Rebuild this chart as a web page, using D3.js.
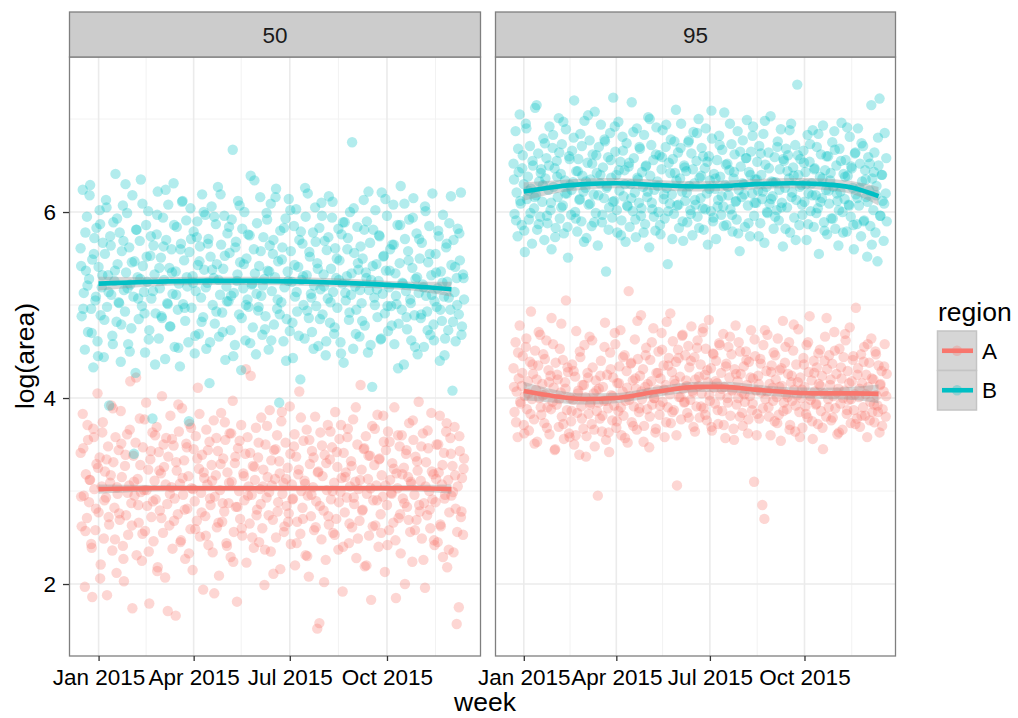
<!DOCTYPE html>
<html><head><meta charset="utf-8">
<script src="https://cdn.jsdelivr.net/npm/d3@7"></script>
<style>
body{margin:0;background:#fff;}
svg{display:block;font-family:"Liberation Sans",Arial,Helvetica,sans-serif;}
</style>
</head><body>
<svg id="chart" width="1018" height="718"></svg>
<script>
// ---------------- data ----------------
const panels = ["50", "95"];
const regions = ["A", "B"];
const regionColors = ["#F8766D", "#00BFC4"];
const xTickDates = ["2015-01-01", "2015-04-01", "2015-07-01", "2015-10-01"];
const xTickLabels = ["Jan 2015", "Apr 2015", "Jul 2015", "Oct 2015"];
const xMinorDates = ["2015-02-15", "2015-05-16", "2015-08-16", "2015-11-16"];
const yTicks = [2, 4, 6];
const yTickLabels = ["2", "4", "6"];
const yMinor = [3, 5, 7];
// first day (relative to 1 Jan 2015) of each panel's daily point series
const startDay50 = -17;
const startDay95 = -10;

// daily observations
const A50 = [
3.41,2.62,3.83,2.95,1.97,3.18,2.71,3.55,2.88,3.12,2.43,1.86,3.67,3.02,
2.58,3.29,4.05,2.77,3.36,2.21,3.05,3.74,2.49,3.21,2.93,1.88,3.48,2.64,
3.09,3.92,2.36,3.31,2.82,3.58,2.12,2.97,3.44,2.69,3.86,3.15,2.41,2.03,
3.27,2.74,3.61,2.53,3.06,4.18,2.87,1.74,3.38,2.95,3.52,2.31,3.13,2.66,
3.78,2.99,2.25,3.47,3.01,2.57,3.95,2.84,3.23,1.79,3.34,2.72,3.63,2.46,
3.11,2.91,3.69,2.18,3.42,2.79,3.19,4.02,2.55,3.26,2.07,3.57,2.86,3.37,
2.63,3.81,3.04,2.38,3.49,2.92,1.66,3.22,2.75,3.64,3.08,2.47,3.89,2.96,
3.33,2.27,3.51,2.81,3.16,3.72,2.59,3.03,2.15,3.45,2.89,3.59,2.68,4.11,
3.24,2.51,2.98,3.39,1.94,3.14,2.73,3.66,3.07,2.42,3.53,2.85,3.28,2.34,
3.76,2.94,3.17,2.61,3.43,2.09,3.01,3.84,2.67,3.35,2.78,3.55,2.44,3.2,
2.87,3.62,2.29,3.1,3.97,2.56,3.3,2.83,1.81,3.46,3.0,2.7,3.71,2.52,
3.19,2.9,3.4,2.23,3.58,3.05,2.65,4.24,2.96,3.27,2.39,3.12,3.68,2.8,
3.36,2.45,3.02,3.79,2.6,3.23,1.99,3.5,2.93,3.15,2.74,3.87,2.35,3.06,
2.69,3.44,3.13,2.5,3.6,2.88,3.32,2.16,3.75,2.97,3.09,2.62,3.52,2.84,
3.25,2.76,3.91,2.43,3.07,2.92,3.48,2.2,3.37,2.67,3.18,4.07,2.54,3.0,
2.82,3.54,3.11,2.31,3.66,2.95,2.08,3.29,2.73,3.43,3.04,2.58,3.8,2.89,
1.52,3.21,1.58,3.63,2.48,3.16,2.79,3.39,2.26,3.01,3.71,2.64,3.34,2.91,
3.47,2.55,3.09,3.85,2.7,3.26,2.37,3.56,2.99,3.14,1.92,3.41,2.77,3.2,
2.93,3.67,2.44,3.05,3.32,2.61,3.77,2.86,3.1,2.28,3.5,3.02,2.68,4.14,
3.23,2.8,3.45,2.19,3.59,2.97,3.13,2.52,3.38,1.83,3.7,2.9,3.28,2.63,
3.06,3.82,2.4,3.35,2.75,3.17,2.94,3.53,2.13,3.44,2.85,3.64,2.58,3.12,
2.98,3.3,2.66,3.9,2.47,3.19,3.03,2.71,3.48,2.33,3.6,2.92,3.25,2.0,
3.4,2.83,3.15,3.73,2.56,3.08,2.24,3.55,2.96,3.37,2.69,3.22,3.96,2.78,
3.11,2.49,3.62,2.87,1.96,3.31,2.74,3.46,3.0,2.6,3.84,2.91,3.18,2.42,
2.88,3.5,2.45,3.2,3.81,2.62,3.07,2.29,3.41,2.96,3.64,2.18,3.12,2.77,
3.57,2.95,3.27,2.34,3.69,2.81,1.57,3.05,1.75,3.43,2.72,3.14,2.53,3.35
];
const B50 = [
5.61,4.88,6.24,5.13,4.52,5.37,5.95,4.71,5.28,6.29,4.96,5.49,4.33,5.72,
5.05,5.83,4.61,5.41,6.02,4.89,5.19,5.67,4.44,5.55,6.13,4.98,5.32,3.92,
5.74,5.11,4.67,5.89,5.26,6.41,4.82,5.44,5.03,5.78,4.39,5.58,6.07,5.16,
4.93,5.35,5.99,4.58,5.62,5.22,4.75,6.18,5.09,5.47,4.27,5.81,5.3,4.85,
5.69,6.35,4.99,5.42,5.14,4.49,5.86,5.25,6.01,4.73,5.53,5.07,3.78,5.64,
5.33,4.91,5.76,6.22,4.64,5.18,5.51,4.86,5.94,5.27,4.42,5.7,5.02,6.08,
5.4,4.77,5.6,5.12,6.31,4.55,5.36,5.84,4.95,5.23,4.34,5.66,6.11,5.01,
5.48,4.83,5.91,5.2,4.6,5.57,6.04,4.97,5.31,5.79,4.48,5.15,5.73,5.43,
4.69,5.63,5.08,6.19,4.87,5.38,5.97,4.53,5.24,5.71,4.16,5.52,6.06,5.0,
5.29,4.8,5.87,5.44,6.27,4.66,5.11,5.65,4.92,5.39,5.96,4.41,5.2,5.77,
5.04,5.56,4.73,5.92,6.67,5.13,4.57,5.68,5.26,6.12,4.9,5.46,4.3,5.82,
5.18,6.0,4.62,5.5,5.06,4.98,5.75,6.39,5.22,4.76,5.6,5.34,4.47,5.88,
4.94,5.42,6.16,5.1,4.68,5.73,5.28,4.88,5.99,5.37,4.52,5.64,6.09,5.15,
5.55,4.79,5.3,6.25,4.96,5.47,3.95,5.8,5.03,5.62,4.61,5.19,5.93,4.85,
5.36,6.14,4.72,5.58,5.25,4.43,5.85,5.09,6.03,4.93,5.41,5.7,4.2,5.27,
5.66,5.0,4.64,5.95,5.32,6.2,4.86,5.52,5.12,4.71,5.78,5.21,6.05,4.99,
5.45,4.56,5.83,5.17,6.1,4.9,5.33,5.69,4.46,5.59,5.07,6.17,4.81,5.39,
5.94,5.14,4.69,5.61,5.29,4.97,5.82,5.48,4.6,5.76,5.23,4.38,5.89,5.05,
5.31,5.72,4.84,6.0,5.11,6.75,4.53,5.56,5.2,4.95,5.84,5.38,4.66,5.63,
5.02,5.5,6.13,4.78,5.35,5.9,4.49,5.16,5.67,5.27,4.12,5.81,5.08,6.02,
5.44,4.87,5.26,5.74,4.63,6.21,5.12,5.53,4.91,5.37,5.96,4.72,5.19,5.6,
4.99,5.65,6.08,4.58,5.34,5.01,5.86,4.8,5.45,6.28,4.95,5.23,4.36,5.71,
5.15,4.74,5.58,5.92,5.06,4.62,5.4,6.15,4.89,5.28,5.77,4.47,5.13,5.5,
4.86,5.67,5.22,4.55,6.06,5.1,4.93,5.46,5.85,4.68,5.32,6.2,4.79,5.04,
5.55,4.98,5.18,5.74,4.4,5.36,4.83,5.97,5.09,4.64,5.62,5.25,4.73,5.88,
4.95,5.43,4.08,5.7,5.14,4.61,5.29,5.82,4.9,5.48,6.21,4.77,5.33,5.06
];
const A95 = [
4.32,3.85,4.6,4.07,3.58,4.21,4.78,3.94,4.13,4.45,3.71,4.02,4.55,3.88,
4.18,3.65,4.39,4.93,3.99,4.26,3.77,4.51,4.09,3.53,4.35,4.0,4.68,3.82,
4.15,4.47,3.73,4.04,4.62,3.9,4.3,3.61,4.24,4.86,3.96,4.11,3.44,4.38,
3.93,4.2,3.69,4.53,4.06,3.8,4.41,3.56,4.17,5.05,3.87,4.28,3.62,4.0,
3.75,4.36,3.98,3.5,4.23,4.72,3.84,4.08,3.39,4.44,3.91,4.14,3.67,4.57,
4.01,3.59,4.27,3.83,4.66,3.95,3.72,4.33,4.05,3.48,4.19,3.86,2.95,4.1,
3.78,4.4,3.64,4.12,3.97,4.81,3.55,4.25,3.89,3.42,4.49,4.03,3.76,4.22,
3.92,4.58,3.68,4.16,3.86,4.34,4.73,3.6,4.07,3.81,4.46,3.97,4.29,3.52,
5.15,4.02,4.37,3.74,4.19,3.91,4.63,4.1,3.66,4.42,3.85,4.24,4.89,3.99,
4.31,3.7,4.12,4.54,3.88,4.06,3.47,4.41,4.18,3.93,4.75,4.0,3.63,4.27,
4.09,4.5,3.82,4.21,4.7,3.96,4.35,3.58,4.14,4.82,3.9,4.43,4.04,3.73,
4.28,4.61,3.87,4.15,4.39,3.06,4.52,4.01,4.23,3.77,4.67,4.1,3.95,4.46,
4.19,3.84,4.56,4.33,3.98,4.77,4.08,3.69,4.44,4.2,3.91,4.62,4.13,3.79,
4.36,4.05,4.71,3.89,4.25,4.53,3.76,4.17,4.84,3.97,4.32,3.65,4.48,4.11,
3.94,4.4,4.16,3.72,4.59,4.03,4.27,3.86,4.69,4.12,3.57,4.37,4.0,4.55,
4.22,3.81,4.47,4.09,3.67,4.31,4.78,3.93,4.18,4.6,3.8,4.26,4.06,3.7,
4.34,3.96,4.5,4.14,3.62,4.39,4.02,4.73,3.87,4.21,3.1,4.45,4.08,3.83,
4.24,3.78,4.42,4.06,2.85,4.57,2.7,3.99,4.29,4.68,3.9,4.15,3.6,4.35,
4.11,4.49,3.75,4.2,4.01,4.64,3.82,4.3,3.54,4.13,4.83,3.95,4.38,4.04,
3.88,4.26,4.6,3.71,4.17,3.97,4.51,4.09,3.64,4.36,4.03,4.74,3.85,4.22,
4.0,3.68,4.43,4.12,3.91,4.57,3.79,4.28,4.88,3.98,4.19,3.56,4.4,4.07,
3.93,4.33,3.72,4.15,4.52,3.86,4.24,3.45,4.05,4.66,3.8,4.31,3.99,4.46,
4.14,3.76,4.37,4.02,4.71,3.89,4.26,3.61,4.1,4.53,3.94,4.21,3.66,4.44,
4.08,4.62,3.83,4.29,3.98,4.76,3.73,4.18,4.41,3.87,4.04,4.97,3.78,4.32,
4.01,3.69,4.47,4.16,3.9,4.55,3.81,4.25,3.58,4.12,4.38,3.96,4.64,3.85,
4.2,3.74,4.5,4.03,3.92,4.35,3.63,4.15,4.29,3.88,4.07,4.58,3.8,4.26
];
const B95 = [
6.52,5.98,6.87,6.21,5.74,6.43,7.05,6.09,5.86,6.61,6.3,5.57,6.95,6.14,
6.38,5.92,6.71,6.25,5.66,6.5,6.04,7.12,6.18,5.81,6.63,6.33,5.95,6.46,
6.11,6.79,5.7,6.36,6.58,5.88,6.24,6.92,6.02,5.6,6.69,6.27,6.47,5.83,
6.55,6.16,7.01,5.93,6.41,6.73,6.07,5.77,6.34,6.89,6.2,5.51,6.6,6.29,
5.97,6.66,6.32,7.2,6.0,6.44,5.79,6.57,6.13,6.84,5.9,6.39,6.22,6.98,
6.26,5.72,6.53,6.08,6.77,6.35,5.85,6.62,6.19,7.08,5.99,6.42,5.64,6.7,
6.31,6.94,5.89,6.48,6.15,6.76,5.36,6.28,6.59,6.05,6.85,6.37,5.94,7.23,
6.12,6.65,6.4,5.78,6.97,6.23,6.54,5.91,6.81,6.17,6.45,5.68,6.74,6.06,
6.49,5.84,6.3,7.18,6.01,6.58,6.21,5.73,6.9,6.35,6.1,6.68,5.96,6.43,
6.27,6.83,5.87,6.5,6.16,7.02,5.62,6.39,6.72,6.03,6.56,6.24,5.8,6.91,
6.33,6.0,6.61,5.76,6.46,6.88,6.14,5.93,6.7,6.26,5.44,6.53,6.09,6.78,
6.19,6.57,5.98,6.42,7.1,6.07,6.64,5.83,6.36,6.95,6.22,5.69,6.5,6.12,
6.44,5.89,6.75,6.28,6.02,6.63,5.75,6.86,6.31,6.08,6.55,5.95,7.0,6.37,
6.15,6.69,6.04,5.81,6.47,6.9,6.2,5.65,6.6,6.34,6.01,6.79,5.9,6.41,
6.25,5.71,6.56,6.13,6.82,6.38,5.97,6.67,6.06,7.07,6.29,5.86,6.52,6.18,
6.45,6.03,6.73,5.79,6.36,6.62,6.11,5.92,6.87,6.24,5.58,6.49,6.16,6.77,
6.3,5.84,6.58,6.99,6.07,6.43,5.74,6.65,6.2,6.92,5.96,6.35,6.1,6.54,
6.23,6.71,5.88,6.4,6.14,6.84,5.67,6.51,6.27,5.99,6.64,6.09,7.03,6.33,
6.17,5.82,6.59,6.32,6.02,6.76,5.91,6.46,6.89,6.1,5.63,6.55,6.26,6.68,
6.05,6.61,6.36,5.78,6.95,6.21,6.48,5.94,6.72,6.13,7.37,6.4,5.86,6.57,
6.29,5.97,6.66,6.11,6.43,5.7,6.83,6.2,6.54,6.01,6.31,6.88,5.84,6.47,
6.18,6.7,6.04,5.55,6.38,6.62,6.15,6.93,5.89,6.45,6.24,5.76,6.6,6.09,
6.34,5.93,6.75,6.27,6.87,5.82,6.5,6.12,5.64,6.68,6.22,6.96,6.0,6.41,
6.14,6.56,5.79,6.39,6.08,6.81,5.95,6.47,6.26,5.6,6.63,6.19,5.87,6.9,
6.07,6.52,5.74,6.33,6.71,5.91,6.45,6.16,5.52,6.59,6.23,5.85,7.15,6.36,
6.02,6.64,5.78,6.28,5.47,6.5,7.22,5.96,6.4,6.12,5.69,6.85,6.2,5.9
];
// second set of observations, one every two days (half a day after the start)
const A50b = [
2.94,3.46,2.57,3.71,3.12,2.39,3.58,2.81,3.25,2.06,3.63,2.9,3.34,2.72,
3.17,3.89,2.48,3.04,2.76,3.51,2.27,3.39,2.98,3.66,2.63,3.1,4.22,2.85,
3.28,2.54,3.77,3.01,2.35,3.43,2.89,3.6,2.14,3.22,2.71,3.5,3.07,1.71,
2.97,3.56,2.68,3.31,3.93,2.45,3.14,2.8,3.47,2.33,3.68,3.02,2.59,3.35,
3.83,2.77,3.2,2.52,3.44,2.92,3.11,1.9,3.57,2.66,3.29,2.87,3.74,2.41,
3.09,3.62,2.24,3.37,2.83,3.54,2.6,3.16,4.31,2.95,3.41,2.5,3.26,2.74,
3.52,2.86,3.05,2.37,3.7,2.99,3.33,2.11,3.45,2.78,3.19,3.85,2.56,3.13,
2.67,3.4,2.91,3.61,2.44,3.23,3.79,2.7,3.08,2.3,3.55,2.96,3.36,2.61,
3.2,2.84,3.49,2.02,3.3,2.73,3.64,3.0,2.53,3.42,2.88,3.71,2.4,3.15,
3.58,2.65,3.27,2.93,3.9,2.49,3.12,2.79,3.46,2.2,3.38,3.03,2.62,3.67,
2.9,3.34,2.55,3.81,3.06,2.42,3.53,2.97,3.24,1.85,3.6,2.75,3.18,2.87,
3.44,2.69,3.1,3.76,2.58,3.32,2.85,3.48,2.26,3.05,3.65,2.8,3.21,2.47,
3.13,3.5,2.64,3.28,2.92,3.73,2.37,3.4,2.99,3.17,2.56,3.59,2.78,3.24
];
const B50b = [
5.42,4.96,5.78,5.21,6.18,4.7,5.55,5.09,4.45,5.87,5.32,4.84,6.05,5.14,
5.64,4.58,5.37,5.93,5.02,4.79,5.69,6.3,5.18,4.5,5.46,3.4,5.81,5.07,
5.28,6.09,4.91,5.52,4.63,5.74,5.15,4.36,5.97,5.4,4.88,5.63,6.24,5.01,
4.77,5.35,5.86,5.11,4.54,5.6,6.12,4.97,5.3,3.75,5.71,5.24,4.67,5.9,
5.47,4.82,6.0,5.19,5.66,4.6,5.38,5.95,4.93,5.27,6.19,4.71,5.53,5.04,
5.84,5.1,4.45,5.62,5.33,6.07,4.86,5.44,5.0,5.76,4.59,5.23,6.34,5.12,
4.98,5.58,5.21,4.74,5.92,5.36,4.62,5.7,6.16,5.06,4.9,5.49,5.83,4.4,
5.26,6.02,4.81,5.43,5.14,4.67,5.79,5.31,6.26,4.94,5.57,5.08,4.53,5.68,
5.39,4.85,5.96,5.2,4.61,5.73,5.03,6.11,4.76,5.5,5.27,4.48,5.89,5.13,
5.6,4.92,5.34,6.04,4.69,5.45,5.16,4.83,5.81,5.29,6.22,4.57,5.42,5.0,
5.17,5.75,4.64,5.52,6.14,4.99,5.37,4.78,5.65,5.1,4.32,5.86,5.24,6.09,
4.87,5.48,5.02,5.94,4.55,5.3,5.71,4.9,5.19,6.01,4.73,5.55,5.11,4.62,
5.35,5.8,4.95,5.24,4.46,5.66,5.08,6.17,4.82,5.41,5.0,5.77,4.68,5.29
];
const A95b = [
4.12,3.74,4.49,3.96,4.27,3.62,4.64,4.05,3.83,4.36,3.51,4.2,4.71,3.9,
4.03,4.42,3.68,4.17,3.88,4.58,3.45,4.25,3.99,4.8,3.72,4.1,4.33,3.58,
3.86,4.29,3.6,4.05,4.5,3.78,4.14,3.37,4.22,3.93,4.62,3.66,4.08,3.95,
4.24,3.81,4.55,3.97,3.63,4.31,4.02,4.7,3.75,4.16,3.9,4.44,3.57,4.11,
3.98,4.38,3.7,4.21,4.83,3.89,4.07,3.53,4.46,4.15,3.8,4.6,4.0,3.67,
4.27,3.92,4.52,4.09,3.74,4.35,4.91,3.85,4.19,3.6,4.43,4.01,4.68,3.96,
4.13,3.79,4.4,4.06,3.64,4.54,4.23,3.91,4.75,3.82,4.3,4.03,3.69,4.47,
4.18,3.87,4.57,4.1,3.71,4.34,3.95,4.66,4.08,3.55,4.26,4.0,4.5,3.84,
4.04,4.41,3.77,4.22,3.94,4.63,3.6,4.15,4.37,3.89,4.73,4.07,3.8,4.28,
3.97,4.46,3.73,4.12,4.32,3.86,4.55,4.01,3.66,4.24,4.79,3.92,4.17,3.58,
4.09,4.36,3.83,4.6,4.02,3.75,4.27,3.94,4.48,4.13,3.68,4.4,4.86,3.9,
4.2,3.79,4.51,4.06,3.63,4.33,4.0,4.69,3.87,4.16,3.99,4.45,3.72,4.25,
4.1,3.81,4.39,4.04,4.58,3.76,4.21,3.93,4.47,3.85,4.14,3.7,4.34,4.02
];
const B95b = [
6.35,5.91,6.68,6.12,6.47,5.8,6.9,6.23,5.99,6.55,6.16,7.15,5.87,6.42,
6.29,6.74,5.96,6.5,6.1,6.83,5.73,6.38,6.64,6.05,6.97,6.2,5.84,6.57,
6.24,6.8,5.93,6.44,6.14,6.71,5.68,6.33,7.04,6.09,6.52,5.89,6.61,6.18,
6.4,5.97,6.78,6.26,5.81,6.56,6.11,6.92,6.02,6.45,5.75,6.66,6.3,6.07,
6.53,6.15,6.86,5.92,6.37,6.7,6.04,5.78,6.49,6.22,7.0,6.1,5.95,6.62,
6.28,5.86,6.59,6.19,6.94,6.01,6.42,5.71,6.76,6.34,6.08,6.69,5.9,6.48,
6.21,6.77,5.98,6.46,6.13,6.85,5.83,6.39,6.6,6.03,6.54,6.25,7.09,5.94,
6.36,6.06,6.72,6.17,5.85,6.51,6.27,6.95,5.97,6.43,6.12,5.77,6.65,6.31,
6.19,6.58,5.88,6.4,6.82,6.1,6.35,5.74,6.63,6.22,6.98,6.0,6.47,6.14,
6.32,5.95,6.7,6.24,6.05,6.57,5.82,6.44,6.88,6.16,6.39,5.7,6.61,6.27,
6.08,6.53,6.3,5.87,6.73,6.18,6.46,5.99,6.84,6.11,6.36,5.8,6.6,6.23,
6.42,5.93,6.67,6.2,6.02,6.55,5.78,6.38,6.91,6.07,6.49,5.86,6.64,6.15,
6.26,6.74,5.9,6.35,6.11,6.52,5.65,6.43,6.18,6.8,5.96,6.4,6.09,6.58
];

// loess smooth (days from 1 Jan 2015), fitted value and standard-error half width
const smoothDays50 = [0, 50, 100, 150, 200, 250, 300, 334];
const fitA50 = [3.02, 3.03, 3.03, 3.03, 3.03, 3.03, 3.03, 3.02];
const seA50  = [0.05, 0.035, 0.03, 0.03, 0.03, 0.03, 0.035, 0.05];
const fitB50 = [5.23, 5.25, 5.26, 5.26, 5.25, 5.23, 5.2, 5.17];
const seB50  = [0.075, 0.05, 0.045, 0.045, 0.045, 0.045, 0.05, 0.08];
const smoothDays95 = [0, 30, 59, 90, 130, 170, 195, 225, 260, 290, 320, 345];
const fitA95 = [4.075, 4.02, 3.99, 4.0, 4.07, 4.12, 4.12, 4.09, 4.06, 4.05, 4.05, 4.045];
const seA95  = [0.1, 0.07, 0.06, 0.055, 0.055, 0.055, 0.055, 0.055, 0.055, 0.06, 0.07, 0.1];
const fitB95 = [6.22, 6.27, 6.30, 6.31, 6.29, 6.275, 6.28, 6.30, 6.31, 6.30, 6.26, 6.17];
const seB95  = [0.1, 0.07, 0.06, 0.055, 0.055, 0.055, 0.055, 0.055, 0.055, 0.06, 0.07, 0.1];

// ---------------- build ----------------
const parse = d3.timeParse("%Y-%m-%d");
const day0 = parse("2015-01-01");
const toDate = d => new Date(day0.getTime() + d * 864e5);

const panelData = [
  { name: panels[0], start: startDay50, values: [A50, B50], values2: [A50b, B50b],
    sDays: smoothDays50, fit: [fitA50, fitB50], se: [seA50, seB50], x0: 69, x1: 481 },
  { name: panels[1], start: startDay95, values: [A95, B95], values2: [A95b, B95b],
    sDays: smoothDays95, fit: [fitA95, fitB95], se: [seA95, seB95], x0: 495, x1: 896 }
];

const svg = d3.select("#chart");
const TOP = 57, BOTTOM = 656, STRIP_TOP = 12;
const y = d3.scaleLinear().domain([1.226, 7.667]).range([BOTTOM, TOP]);
const xDomain = [parse("2014-12-04"), parse("2015-12-29")];
const FONT = "Liberation Sans, Arial, sans-serif";

panelData.forEach((p, pi) => {
  const x = d3.scaleTime().domain(xDomain).range([p.x0, p.x1]);
  const g = svg.append("g");

  g.append("rect").attr("x", p.x0).attr("y", TOP).attr("width", p.x1 - p.x0)
    .attr("height", BOTTOM - TOP).attr("fill", "#fff");

  // minor grid
  g.selectAll(".ymin").data(yMinor).enter().append("line")
    .attr("x1", p.x0).attr("x2", p.x1).attr("y1", d => y(d)).attr("y2", d => y(d))
    .attr("stroke", "#f2f2f2").attr("stroke-width", 1);
  g.selectAll(".xmin").data(xMinorDates.map(parse)).enter().append("line")
    .attr("x1", d => x(d)).attr("x2", d => x(d)).attr("y1", TOP).attr("y2", BOTTOM)
    .attr("stroke", "#f2f2f2").attr("stroke-width", 1);
  // major grid
  g.selectAll(".ymaj").data(yTicks).enter().append("line")
    .attr("x1", p.x0).attr("x2", p.x1).attr("y1", d => y(d)).attr("y2", d => y(d))
    .attr("stroke", "#ebebeb").attr("stroke-width", 1.6);
  g.selectAll(".xmaj").data(xTickDates.map(parse)).enter().append("line")
    .attr("x1", d => x(d)).attr("x2", d => x(d)).attr("y1", TOP).attr("y2", BOTTOM)
    .attr("stroke", "#ebebeb").attr("stroke-width", 1.6);

  // points
  regions.forEach((r, ri) => {
    const pts = p.values[ri].map((v, i) => ({ d: toDate(p.start + i), v }))
      .concat(p.values2[ri].map((v, i) => ({ d: toDate(p.start + 0.5 + 2 * i), v })));
    g.append("g").selectAll("circle").data(pts).enter().append("circle")
      .attr("cx", d => x(d.d)).attr("cy", d => y(d.v)).attr("r", 5.2)
      .attr("fill", regionColors[ri]).attr("fill-opacity", 0.3);
  });

  // smooths: ribbons then lines
  regions.forEach((r, ri) => {
    const sm = p.sDays.map((d, i) => ({ d: toDate(d), f: p.fit[ri][i], s: p.se[ri][i] }));
    g.append("path").datum(sm)
      .attr("d", d3.area().x(d => x(d.d)).y0(d => y(d.f - d.s)).y1(d => y(d.f + d.s))
        .curve(d3.curveMonotoneX))
      .attr("fill", "#999999").attr("fill-opacity", 0.4);
  });
  regions.forEach((r, ri) => {
    const sm = p.sDays.map((d, i) => ({ d: toDate(d), f: p.fit[ri][i] }));
    g.append("path").datum(sm)
      .attr("d", d3.line().x(d => x(d.d)).y(d => y(d.f)).curve(d3.curveMonotoneX))
      .attr("fill", "none").attr("stroke", regionColors[ri]).attr("stroke-width", 4.6);
  });

  // panel border
  g.append("rect").attr("x", p.x0 + 0.5).attr("y", TOP).attr("width", p.x1 - p.x0 - 1)
    .attr("height", BOTTOM - TOP).attr("fill", "none").attr("stroke", "#7f7f7f").attr("stroke-width", 1.3);

  // strip
  g.append("rect").attr("x", p.x0 + 0.5).attr("y", STRIP_TOP).attr("width", p.x1 - p.x0 - 1)
    .attr("height", TOP - STRIP_TOP).attr("fill", "#cccccc").attr("stroke", "#7f7f7f").attr("stroke-width", 1.3);
  g.append("text").attr("x", (p.x0 + p.x1) / 2).attr("y", 43).attr("text-anchor", "middle")
    .attr("font-size", 22.5).attr("fill", "#1a1a1a").text(p.name);

  // x axis
  const xa = g.append("g").attr("transform", `translate(0,${BOTTOM})`)
    .call(d3.axisBottom(x).tickValues(xTickDates.map(parse))
      .tickFormat((d, i) => xTickLabels[i]).tickSize(5).tickPadding(8));
  xa.select(".domain").remove();
  xa.selectAll("line").attr("stroke", "#333").attr("stroke-width", 1.3);
  xa.selectAll("text").attr("font-size", 22.5).attr("fill", "#000").attr("font-family", FONT);

  // y axis (left panel only)
  if (pi === 0) {
    const ya = g.append("g").attr("transform", `translate(${p.x0},0)`)
      .call(d3.axisLeft(y).tickValues(yTicks).tickFormat((d, i) => yTickLabels[i])
        .tickSize(6).tickPadding(7));
    ya.select(".domain").remove();
    ya.selectAll("line").attr("stroke", "#333").attr("stroke-width", 1.3);
    ya.selectAll("text").attr("font-size", 22.5).attr("fill", "#000").attr("font-family", FONT);
  }
});

// axis titles
svg.append("text").attr("x", 485).attr("y", 711).attr("text-anchor", "middle")
  .attr("font-size", 26.5).attr("fill", "#000").text("week");
svg.append("text").attr("transform", "translate(34,356) rotate(-90)").attr("text-anchor", "middle")
  .attr("font-size", 26.5).attr("fill", "#000").text("log(area)");

// legend
const lg = svg.append("g");
lg.append("text").attr("x", 938).attr("y", 321).attr("font-size", 26.5).attr("fill", "#000").text("region");
regions.forEach((r, ri) => {
  const ky = 331 + ri * 39.5;
  lg.append("rect").attr("x", 937.5).attr("y", ky).attr("width", 39).attr("height", 39.5)
    .attr("fill", "#d6d6d6").attr("stroke", "#c4c4c4").attr("stroke-width", 1.5);
  lg.append("circle").attr("cx", 957).attr("cy", ky + 19.75).attr("r", 5.2)
    .attr("fill", regionColors[ri]).attr("fill-opacity", 0.3);
  lg.append("line").attr("x1", 942).attr("x2", 973).attr("y1", ky + 19.75).attr("y2", ky + 19.75)
    .attr("stroke", regionColors[ri]).attr("stroke-width", 4.6);
  lg.append("text").attr("x", 982).attr("y", ky + 27.5).attr("font-size", 22.5).attr("fill", "#000").text(r);
});
</script>
</body></html>
